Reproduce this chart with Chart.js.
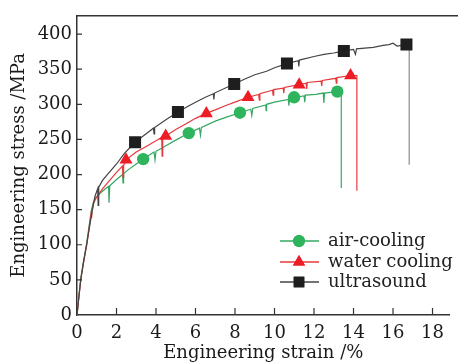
<!DOCTYPE html>
<html>
<head>
<meta charset="utf-8">
<script src="https://cdn.jsdelivr.net/npm/chart.js@4"></script>
<style>
html,body{margin:0;padding:0;background:#fff;}
#wrap{width:458px;height:362px;position:relative;}
</style>
</head>
<body>
<div id="wrap"><canvas id="c" width="458" height="362"></canvas></div>
<script>
// ---- data ----
const xTicks = [0, 2, 4, 6, 8, 10, 12, 14, 16, 18];
const yTicks = [0, 50, 100, 150, 200, 250, 300, 350, 400];

const airStrain  = [0,0.1,0.18,0.3,0.48,0.6,0.72,0.82,0.95,1.2,1.45,1.6,1.62,1.66,2.0,2.31,2.33,2.36,2.6,3.0,3.35,3.9,3.95,4.0,4.5,5.0,5.66,6.2,6.25,6.3,7.0,7.6,8.25,8.8,8.85,8.9,9.55,9.58,9.6,10.0,10.7,10.73,10.76,11.0,11.5,11.53,11.56,12.1,12.47,12.5,12.53,13.18,13.38,13.38];
const airStress  = [0,28,50,72,100,125,148,160,167,174,180,183,160,184,193,200,188,201,207,215,222,232,221,233,241,249,259,266,256,267,276,282,288,293,284,294,299,291,300,303,307,298,308,310,312,303,313,314,316,302,316,318,318,181];

const waterStrain = [0,0.1,0.2,0.35,0.5,0.62,0.72,0.74,0.76,0.85,1.0,1.3,1.6,2.0,2.3,2.33,2.36,2.48,3.0,3.5,4.0,4.29,4.31,4.34,4.49,5.0,5.5,6.0,6.55,7.0,7.5,8.0,8.66,9.2,9.23,9.26,9.9,9.93,9.96,10.44,10.47,10.5,11.25,11.6,11.63,11.66,12.36,12.39,12.42,13.1,13.13,13.16,13.85,14.17,14.17];
const waterStress = [0,27,52,78,100,125,145,138,147,160,168,180,190,203,212,196,213,221,232,240,248,253,226,254,255,264,272,280,287,292,298,303,310,314,306,315,320,313,321,323,316,324,328,330,322,331,333,326,334,337,330,338,341,341,177];

const usStrain  = [0,0.1,0.2,0.35,0.5,0.65,0.78,0.9,1.05,1.07,1.1,1.3,1.6,2.0,2.4,2.94,3.5,3.87,3.9,3.93,4.5,5.11,5.6,6.0,6.5,6.9,6.93,6.96,7.96,8.5,9.0,9.6,10.0,10.63,11.2,11.23,11.26,12.0,12.5,13.0,13.51,14.0,14.1,14.15,15.0,15.5,15.8,16.0,16.2,16.68,16.82,16.82];
const usStress  = [0,27,52,78,103,128,150,168,180,156,182,192,202,215,230,246,258,266,258,267,278,289,297,303,310,315,307,316,329,336,342,347,352,358,362,354,363,368,371,373,376,378,371,379,381,384,385,387,383,385,385,214];

// marker positions
const airMarkX   = [3.35, 5.66, 8.25, 10.99, 13.18];
const airMarkY   = [222, 259, 288, 310, 318];
const waterMarkX = [2.48, 4.49, 6.55, 8.66, 11.25, 13.85];
const waterMarkY = [221, 255, 287, 310, 328, 341];
const usMarkX    = [2.94, 5.11, 7.96, 10.63, 13.51, 16.68];
const usMarkY    = [246, 289, 329, 358, 376, 385];

const seriesNames = ['air-cooling', 'water cooling', 'ultrasound'];
const xTitle = 'Engineering strain /%';
const yTitle = 'Engineering stress /MPa';

// ---- styles ----
const GREEN = '#34a862', GREEN_M = '#2db45c';
const RED = '#e53a3c', RED_M = '#ee1c24';
const BLACK = '#444444', BLACK_M = '#1e1e1e';
const AXIS = '#333333';
const FONT = "'DejaVu Serif', serif";
const FS = 18;

function pts(xs, ys) { return xs.map((x, i) => ({x: x, y: ys[i]})); }

const lineDs = (label, xs, ys, color, extra) => Object.assign({
  type: 'line', label: label, data: pts(xs, ys), borderColor: color,
  borderWidth: 1.2, pointRadius: 0, tension: 0, fill: false, order: 2
}, extra || {});
const markDs = (label, xs, ys, color, style, r) => ({
  type: 'scatter', label: label, data: pts(xs, ys), showLine: false,
  pointStyle: style, pointRadius: r, pointHoverRadius: r,
  backgroundColor: color, borderColor: color, borderWidth: 0, order: 1
});

const usLen = usStrain.length;

const frameAndTicks = {
  id: 'frameAndTicks',
  afterDraw(chart) {
    const {ctx, chartArea: a, scales: {x, y}} = chart;
    ctx.save();
    ctx.strokeStyle = AXIS;
    ctx.lineWidth = 1.5;
    ctx.beginPath();
    ctx.moveTo(a.left, a.top); ctx.lineTo(chart.width, a.top);
    ctx.stroke();
    ctx.lineWidth = 1.2;
    ctx.beginPath();
    xTicks.forEach(v => { if (v === 0) return; const px = x.getPixelForValue(v); ctx.moveTo(px, a.bottom); ctx.lineTo(px, a.bottom - 7); });
    yTicks.forEach(v => { if (v === 0) return; const py = y.getPixelForValue(v); ctx.moveTo(a.left, py); ctx.lineTo(a.left + 5, py); });
    ctx.stroke();
    ctx.restore();
  }
};

const customLegend = {
  id: 'customLegend',
  afterDraw(chart) {
    const ctx = chart.ctx;
    const items = [
      {name: seriesNames[0], line: GREEN, mark: GREEN_M, style: 'circle', r: 6},
      {name: seriesNames[1], line: RED, mark: RED_M, style: 'triangle', r: 7},
      {name: seriesNames[2], line: BLACK, mark: BLACK_M, style: 'rect', r: 7.5}
    ];
    const x0 = 280, x1 = 319, xm = 299, xt = 328;
    const ys = [241, 262, 282];
    ctx.save();
    items.forEach((it, i) => {
      const yy = ys[i];
      ctx.strokeStyle = it.line; ctx.lineWidth = 1.5;
      ctx.beginPath(); ctx.moveTo(x0, yy); ctx.lineTo(x1, yy); ctx.stroke();
      ctx.fillStyle = it.mark; ctx.strokeStyle = it.mark;
      Chart.helpers.drawPoint(ctx, {pointStyle: it.style, radius: it.r, borderWidth: 0, rotation: 0}, xm, yy);
      ctx.fill();
      ctx.fillStyle = '#222';
      ctx.font = FS + 'px ' + FONT;
      ctx.textBaseline = 'middle';
      ctx.textAlign = 'left';
      ctx.fillText(it.name, xt, yy);
    });
    ctx.restore();
  }
};

new Chart(document.getElementById('c'), {
  data: {
    datasets: [
      lineDs(seriesNames[2], usStrain, usStress, BLACK, {
        segment: { borderColor: c => (c.p1DataIndex === usLen - 1 ? '#8a8a8a' : BLACK) }
      }),
      lineDs(seriesNames[1], waterStrain, waterStress, RED),
      lineDs(seriesNames[0], airStrain, airStress, GREEN),
      markDs(seriesNames[2] + ' m', usMarkX, usMarkY, BLACK_M, 'rect', 8.5),
      markDs(seriesNames[1] + ' m', waterMarkX, waterMarkY, RED_M, 'triangle', 7.5),
      markDs(seriesNames[0] + ' m', airMarkX, airMarkY, GREEN_M, 'circle', 6.2)
    ]
  },
  options: {
    responsive: false,
    animation: false,
    devicePixelRatio: 1,
    layout: { padding: { top: 9, right: 0, left: 0, bottom: 0 } },
    plugins: { legend: { display: false }, tooltip: { enabled: false } },
    scales: {
      x: {
        type: 'linear', min: 0, max: 18.86,
        afterBuildTicks: s => { s.ticks = xTicks.map(v => ({value: v})); },
        afterFit: s => { s.height = 47; },
        grid: { display: false, drawTicks: false },
        border: { display: true, color: AXIS, width: 1.5 },
        ticks: { color: '#1a1a1a', font: { family: FONT, size: FS }, padding: 8, maxRotation: 0 },
        title: { display: true, text: xTitle, color: '#1a1a1a', font: { family: FONT, size: FS }, padding: { top: 0, bottom: -2 } }
      },
      y: {
        type: 'linear', min: 0, max: 426,
        afterBuildTicks: s => { s.ticks = yTicks.map(v => ({value: v})); },
        afterFit: s => { s.width = 77; },
        grid: { display: false, drawTicks: false },
        border: { display: true, color: AXIS, width: 1.5 },
        ticks: { color: '#1a1a1a', font: { family: FONT, size: FS }, padding: 5 },
        title: { display: true, text: yTitle, color: '#1a1a1a', font: { family: FONT, size: FS }, padding: { top: 9, bottom: 0 } }
      }
    }
  },
  plugins: [frameAndTicks, customLegend]
});
</script>
</body>
</html>
